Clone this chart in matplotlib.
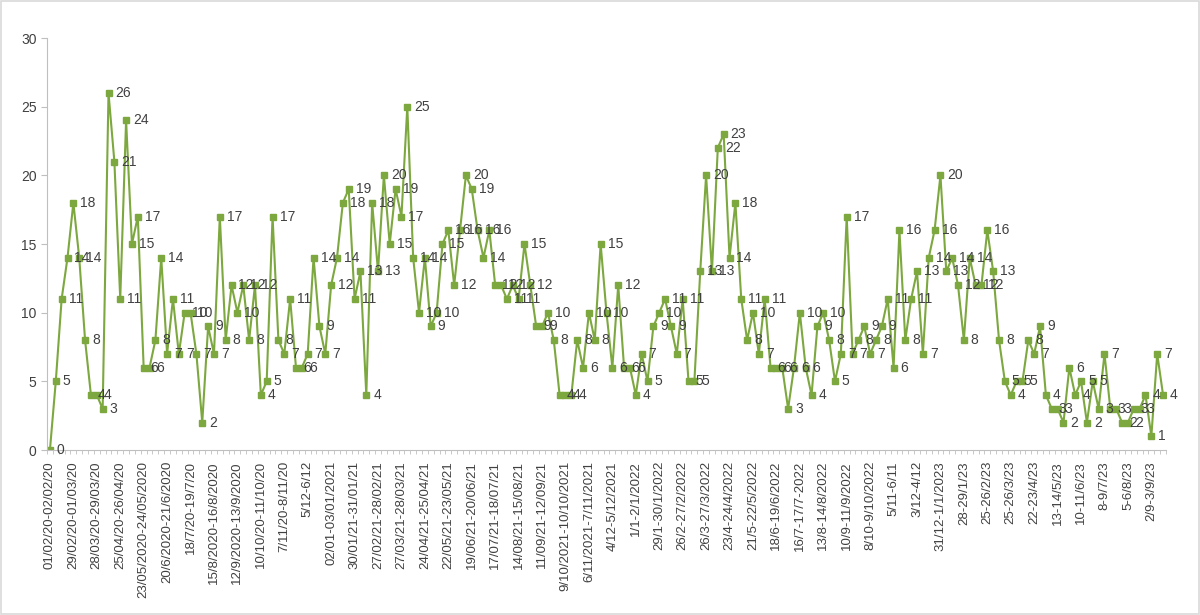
import matplotlib
matplotlib.use('Agg')
import matplotlib.pyplot as plt
from matplotlib.patches import Rectangle

# weekly counts
counts = [0, 5, 11, 14, 18, 14, 8, 4, 4, 3,
          26, 21, 11, 24, 15, 17, 6, 6, 8, 14,
          7, 11, 7, 10, 10, 7, 2, 9, 7, 17,
          8, 12, 10, 12, 8, 12, 4, 5, 17, 8,
          7, 11, 6, 6, 7, 14, 9, 7, 12, 14,
          18, 19, 11, 13, 4, 18, 13, 20, 15, 19,
          17, 25, 14, 10, 14, 9, 10, 15, 16, 12,
          16, 20, 19, 16, 14, 16, 12, 12, 11, 12,
          11, 15, 12, 9, 9, 10, 8, 4, 4, 4,
          8, 6, 10, 8, 15, 10, 6, 12, 6, 6,
          4, 7, 5, 9, 10, 11, 9, 7, 11, 5,
          5, 13, 20, 13, 22, 23, 14, 18, 11, 8,
          10, 7, 11, 6, 6, 6, 3, 6, 10, 6,
          4, 9, 10, 8, 5, 7, 17, 7, 8, 9,
          7, 8, 9, 11, 6, 16, 8, 11, 13, 7,
          14, 16, 20, 13, 14, 12, 8, 14, 12, 12,
          16, 13, 8, 5, 4, 5, 5, 8, 7, 9,
          4, 3, 3, 2, 6, 4, 5, 2, 5, 3,
          7, 3, 3, 2, 2, 3, 3, 4, 1, 7,
          4]

# every 4th week is labelled
week_labels = ['01/02/20-02/02/20', '29/02/20-01/03/20', '28/03/20-29/03/20', '25/04/20-26/04/20',
               '23/05/2020-24/05/2020', '20/6/2020-21/6/2020', '18/7/20-19/7/20', '15/8/2020-16/8/2020',
               '12/9/2020-13/9/2020', '10/10/20-11/10/20', '7/11/20-8/11/20', '5/12-6/12',
               '02/01-03/01/2021', '30/01/21-31/01/21', '27/02/21-28/02/21', '27/03/21-28/03/21',
               '24/04/21-25/04/21', '22/05/21-23/05/21', '19/06/21-20/06/21', '17/07/21-18/07/21',
               '14/08/21-15/08/21', '11/09/21-12/09/21', '9/10/2021-10/10/2021', '6/11/2021-7/11/2021',
               '4/12-5/12/2021', '1/1-2/1/2022', '29/1-30/1/2022', '26/2-27/2/2022',
               '26/3-27/3/2022', '23/4-24/4/2022', '21/5-22/5/2022', '18/6-19/6/2022',
               '16/7-17/7-2022', '13/8-14/8/2022', '10/9-11/9/2022', '8/10-9/10/2022',
               '5/11-6/11', '3/12-4/12', '31/12-1/1/2023', '28-29/1/23',
               '25-26/2/23', '25-26/3/23', '22-23/4/23', '13-14/5/23',
               '10-11/6/23', '8-9/7/23', '5-6/8/23', '2/9-3/9/23']

green = '#7DA83F'
grey = '#BFBFBF'
txt = '#404040'

plt.rcParams['font.family'] = ['Liberation Sans', 'DejaVu Sans']

fig = plt.figure(figsize=(12, 6.15), dpi=100)
ax = fig.add_axes([47/1200, 1-450/615, 1119/1200, 412/615])

x = list(range(len(counts)))
ax.plot(x, counts, color=green, lw=1.5, marker='s', ms=4.5, mfc=green, mec=green)

for xi, v in zip(x, counts):
    ax.annotate(str(v), (xi, v), xytext=(5, 0), textcoords='offset points',
                ha='left', va='center', fontsize=10, color=txt)

ax.set_xlim(-0.5, len(counts) - 0.5)
ax.set_ylim(0, 30)
ax.set_yticks(range(0, 31, 5))
ax.set_xticks(range(0, 4*len(week_labels), 4))
ax.set_xticklabels(week_labels, rotation=90, fontsize=9.5, color=txt)
ax.set_xticks([i + 0.5 for i in range(-1, len(counts))], minor=True)
ax.tick_params(axis='x', which='major', length=0, pad=8)
ax.tick_params(axis='x', which='minor', length=3, color=grey)
ax.tick_params(axis='y', length=4, color=grey, labelsize=10, labelcolor=txt)

for s in ['top', 'right']:
    ax.spines[s].set_visible(False)
for s in ['left', 'bottom']:
    ax.spines[s].set_color(grey)

fig.patches.append(Rectangle((0.001, 0.002), 0.998, 0.996, transform=fig.transFigure,
                             fill=False, edgecolor='#D9D9D9', lw=1.2))

fig.savefig('out.png', dpi=100)
